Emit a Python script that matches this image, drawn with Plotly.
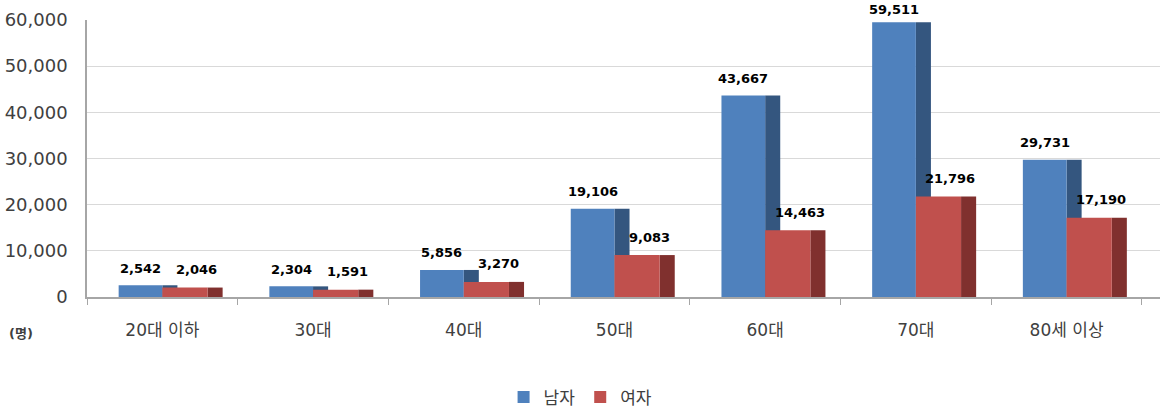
import plotly.graph_objects as go

# 연령대별 인원 (명)
age_groups = ["20대 이하", "30대", "40대", "50대", "60대", "70대", "80세 이상"]
male = [2542, 2304, 5856, 19106, 43667, 59511, 29731]
female = [2046, 1591, 3270, 9083, 14463, 21796, 17190]

Y_MAX = 60000
BLUE, BLUE_SIDE = "#4F81BD", "#34567F"
RED, RED_SIDE = "#C0504D", "#80302E"
FONT = "DejaVu Sans, Noto Sans CJK KR"

fig = go.Figure()

# side faces first, front faces on top (fake 3D look)
fig.add_trace(go.Bar(x=age_groups, y=male, offset=0, width=0.1,
                     marker=dict(color=BLUE_SIDE, line_width=0), showlegend=False))
fig.add_trace(go.Bar(x=age_groups, y=male, offset=-0.29, width=0.29, name="남자",
                     marker=dict(color=BLUE, line_width=0)))
fig.add_trace(go.Bar(x=age_groups, y=female, offset=0.3, width=0.1,
                     marker=dict(color=RED_SIDE, line_width=0), showlegend=False))
fig.add_trace(go.Bar(x=age_groups, y=female, offset=0, width=0.3, name="여자",
                     marker=dict(color=RED, line_width=0)))


def label_shift(v):
    # keep labels near the top of the axis inside the page
    return 13 if v > 0.95 * Y_MAX else 17


# value labels
for i, (m, f) in enumerate(zip(male, female)):
    fig.add_annotation(x=i - 0.145, y=m, text=f"{m:,}", showarrow=False,
                       yshift=label_shift(m),
                       font=dict(size=13, color="black", family=FONT, weight="bold"))
    fig.add_annotation(x=i + 0.15, y=f, text=f"{f:,}", showarrow=False,
                       xshift=12, yshift=label_shift(f) + 1,
                       font=dict(size=13, color="black", family=FONT, weight="bold"))

# unit label
fig.add_annotation(x=0, y=0, xref="paper", yref="paper", text="<b>(명)</b>",
                   showarrow=False, xanchor="right", yanchor="middle",
                   xshift=-52, yshift=-36,
                   font=dict(size=13, color="#404040", family=FONT))

fig.update_layout(
    barmode="overlay",
    width=1176, height=414,
    margin=dict(l=87, r=16, t=20, b=117),
    plot_bgcolor="white", paper_bgcolor="white",
    font=dict(family=FONT, color="#404040"),
    hovermode=False,
    legend=dict(orientation="h", x=0.46, xanchor="center",
                yref="container", y=0.04, yanchor="middle",
                font=dict(size=17, color="#404040"), itemwidth=30, traceorder="normal"),
    xaxis=dict(range=[-0.5, 6.62], showline=True, linecolor="#A6A6A6", linewidth=1.5,
               ticks="outside", tickson="boundaries", ticklen=6, tickcolor="#A6A6A6",
               tickfont=dict(size=17, color="#404040"), ticklabelstandoff=17,
               showgrid=False, automargin=False),
    yaxis=dict(range=[0, Y_MAX], dtick=10000, tickformat=",d", showline=True,
               linecolor="#A6A6A6", linewidth=1.5, gridcolor="#D9D9D9", gridwidth=1,
               tickfont=dict(size=18, color="#404040"), ticklabelstandoff=14,
               zeroline=False, automargin=False),
)

# drop the default page margin so the figure fills the window exactly
fig.write_html("out.html", config={"displayModeBar": False},
               post_script="document.body.style.margin = '0';")
